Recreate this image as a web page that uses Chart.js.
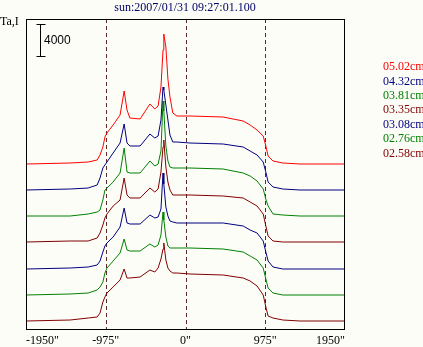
<!DOCTYPE html>
<html>
<head>
<meta charset="utf-8">
<script src="https://cdn.jsdelivr.net/npm/chart.js@4"></script>
<style>
  html, body { margin: 0; padding: 0; background: #fdfdf8; }
  #wrap { width: 423px; height: 347px; position: relative; }
</style>
</head>
<body>
<div id="wrap"><canvas id="chart"></canvas></div>
<script>
// position along the disk (arcsec)
let positions = [-1950, -1410, -1190, -1080, -1045, -1010, -985, -960, -885, -800, -750, -715, -680, -555, -435, -375, -335, -300, -275, -265, -240, -215, -190, -155, -105, 55, 460, 705, 790, 875, 950, 985, 1010, 1070, 1190, 1400, 1950];

let labels = ["05.02cm", "04.32cm", "03.81cm", "03.35cm", "03.08cm", "02.76cm", "02.58cm"];
let colors = ["#ff0000", "#000080", "#008000", "#800000", "#000080", "#008000", "#800000"];
// vertical stacking of each profile
let offsets = [20625, 17375, 14125, 10875, 7500, 4250, 1000];

let ta0502 = [0, 125, 250, 500, 1125, 2125, 3375, 3875, 4875, 6125, 9125, 6750, 5750, 5625, 7500, 6875, 7250, 9625, 14250, 16250, 14625, 10625, 8375, 6375, 6000, 6000, 5875, 5375, 4875, 4250, 3500, 2125, 1000, 375, 125, 0, 0];
let ta0432 = [0, 125, 250, 625, 1500, 2750, 3125, 3500, 4625, 5875, 8250, 5875, 5500, 5500, 7000, 6500, 6750, 8750, 12875, 12500, 10625, 8750, 6875, 6000, 6000, 5875, 5750, 5375, 4875, 4375, 3500, 2125, 1000, 375, 125, 0, 0];
let ta0381 = [0, 0, 250, 500, 750, 2000, 3250, 3500, 4250, 5375, 8500, 5500, 5375, 5375, 6875, 6250, 6500, 8125, 14375, 13125, 8750, 6875, 6125, 6000, 6000, 6000, 5875, 5375, 5000, 4375, 3375, 2000, 1250, 250, 125, 0, 0];
let ta0335 = [0, 125, 125, 500, 1125, 2125, 3000, 3500, 4500, 5250, 8000, 5875, 5500, 5500, 6750, 6250, 6625, 8750, 11875, 12750, 9375, 7500, 6500, 5875, 5875, 5875, 5750, 5500, 5000, 4500, 3500, 1875, 750, 125, 0, 0, 0];
let ta0308 = [0, 125, 250, 500, 1000, 2125, 2875, 3250, 4000, 5250, 7625, 5750, 5625, 5625, 6750, 6375, 6500, 7500, 12000, 10625, 7750, 6625, 6000, 5875, 5750, 5750, 5750, 5375, 4875, 4500, 3500, 2000, 1000, 250, 0, 0, 0];
let ta0276 = [0, 125, 250, 625, 1000, 1625, 2750, 3375, 4250, 5250, 7000, 5625, 5500, 5500, 6375, 6000, 6250, 7500, 10375, 9375, 7250, 6125, 5875, 5875, 5875, 5875, 5750, 5375, 4875, 4375, 3375, 1875, 875, 250, 0, 0, 0];
let ta0258 = [0, 125, 375, 500, 1000, 2375, 3000, 3500, 4250, 5125, 6500, 5375, 5375, 5500, 6375, 6125, 6625, 7750, 9000, 9750, 7625, 6625, 6250, 6000, 6000, 5875, 5750, 5375, 5000, 4375, 3250, 1625, 625, 375, 125, 0, 0];

let series = [ta0502, ta0432, ta0381, ta0335, ta0308, ta0276, ta0258];

let xTicks = [-1950, -975, 0, 975, 1950];
let tickText = ['-1950"', '-975"', '0"', '975"', '1950"'];
let dashedAt = [-975, 0, 975];
let scaleBar = 4000;
let titleText = "sun:2007/01/31 09:27:01.100";

let datasets = series.map((vals, i) => ({
  label: labels[i],
  data: vals.map((v, j) => ({ x: positions[j], y: v + offsets[i] })),
  borderColor: colors[i],
  borderWidth: 1,
  pointRadius: 0,
  tension: 0,
  fill: false
}));

const decor = {
  id: 'decor',
  beforeDatasetsDraw(chart) {
    let ctx = chart.ctx, a = chart.chartArea, xs = chart.scales.x;
    ctx.save();
    ctx.strokeStyle = "#5c2a2a";
    ctx.lineWidth = 1;
    ctx.setLineDash([4, 3]);
    dashedAt.forEach(v => {
      let px = Math.round(xs.getPixelForValue(v)) + 0.5;
      ctx.beginPath();
      ctx.moveTo(px, a.top);
      ctx.lineTo(px, a.bottom);
      ctx.stroke();
    });
    ctx.restore();
  },
  afterDraw(chart) {
    let ctx = chart.ctx, a = chart.chartArea, xs = chart.scales.x, ys = chart.scales.y;
    ctx.save();

    // frame
    ctx.strokeStyle = "#000";
    ctx.lineWidth = 1;
    ctx.strokeRect(a.left + 0.5, a.top + 0.5, a.right - a.left - 1, a.bottom - a.top);

    // tick labels
    ctx.fillStyle = "#000";
    ctx.font = "12px 'Liberation Serif'";
    ctx.textBaseline = "middle";
    xTicks.forEach((v, i) => {
      ctx.textAlign = i == 0 ? "left" : (i == xTicks.length - 1 ? "right" : "center");
      ctx.fillText(tickText[i], xs.getPixelForValue(v), 341);
    });

    // title
    ctx.fillStyle = "#000066";
    ctx.textAlign = "center";
    ctx.fillText(titleText, 185, 8);

    // y label
    ctx.fillStyle = "#000";
    ctx.textAlign = "left";
    ctx.fillText("Ta,I", 0, 22);

    // scale bar
    let len = ys.getPixelForValue(0) - ys.getPixelForValue(scaleBar);
    let bx = 40.5, top = 24.5;
    ctx.beginPath();
    ctx.moveTo(bx, top); ctx.lineTo(bx, top + len);
    ctx.moveTo(bx - 4, top); ctx.lineTo(bx + 5, top);
    ctx.moveTo(bx - 4, top + len); ctx.lineTo(bx + 5, top + len);
    ctx.stroke();
    ctx.font = "12px 'Liberation Sans'";
    ctx.fillText(String(scaleBar), 44, top + len / 2);

    // legend
    ctx.font = "12px 'Liberation Serif'";
    chart.data.datasets.forEach((d, i) => {
      ctx.fillStyle = d.borderColor;
      ctx.fillText(d.label, 383, 67 + i * 14.4);
    });
    ctx.restore();
  }
};

new Chart(document.getElementById("chart"), {
  type: 'line',
  data: { datasets: datasets },
  options: {
    responsive: true,
    maintainAspectRatio: false,
    animation: false,
    devicePixelRatio: 1,
    layout: { padding: { left: 26, right: 78, top: 19, bottom: 18 } },
    plugins: { legend: { display: false }, tooltip: { enabled: false } },
    scales: {
      x: { type: 'linear', min: -1950, max: 1950, display: false },
      y: { min: 0, max: 38750, display: false }
    }
  },
  plugins: [decor]
});
</script>
</body>
</html>
